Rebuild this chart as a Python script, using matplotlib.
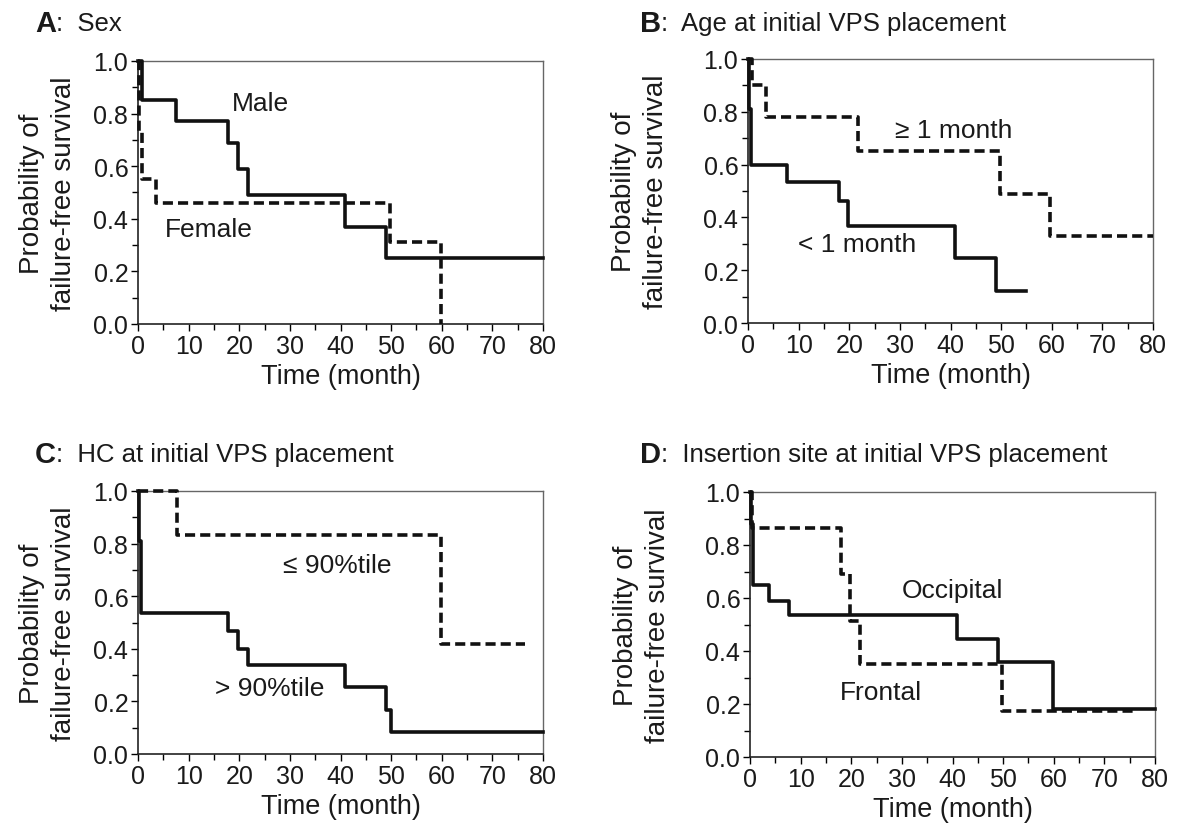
import matplotlib
matplotlib.use("Agg")
import matplotlib.pyplot as plt
from matplotlib.ticker import MultipleLocator, FormatStrFormatter

plt.rcParams['font.family'] = ['Liberation Sans', 'DejaVu Sans']

# Kaplan-Meier step data (event times in months, survival after each time)
a_male_t = [0, 0.7, 7.6, 17.8, 19.7, 21.7, 40.8, 49.0, 80]
a_male_s = [1.0, 0.85, 0.77, 0.69, 0.59, 0.49, 0.37, 0.25, 0.25]
a_female_t = [0, 0.1, 0.7, 3.6, 49.7, 59.9]
a_female_s = [1.0, 0.73, 0.55, 0.46, 0.31, 0.0]

b_lt1_t = [0, 0.1, 0.5, 7.7, 18.0, 19.7, 40.8, 48.9, 55.0]
b_lt1_s = [1.0, 0.81, 0.60, 0.533, 0.461, 0.369, 0.245, 0.122, 0.122]
b_ge1_t = [0, 0.7, 3.6, 21.7, 49.7, 59.7, 80]
b_ge1_s = [1.0, 0.90, 0.78, 0.65, 0.49, 0.33, 0.33]

c_le90_t = [0, 7.7, 59.9, 76.4]
c_le90_s = [1.0, 0.833, 0.417, 0.417]
c_gt90_t = [0, 0.1, 0.6, 17.8, 19.7, 21.7, 40.8, 49.0, 50.0, 80]
c_gt90_s = [1.0, 0.81, 0.535, 0.467, 0.40, 0.337, 0.253, 0.168, 0.085, 0.085]

d_occ_t = [0, 0.2, 0.6, 3.8, 7.8, 40.8, 49.0, 59.8, 80]
d_occ_s = [1.0, 0.88, 0.65, 0.59, 0.535, 0.445, 0.36, 0.183, 0.183]
d_fro_t = [0, 0.3, 17.9, 19.8, 21.7, 49.7, 76.4]
d_fro_s = [1.0, 0.865, 0.69, 0.515, 0.35, 0.175, 0.175]

letters = ["A", "B", "C", "D"]
titles = ["Sex", "Age at initial VPS placement", "HC at initial VPS placement",
          "Insertion site at initial VPS placement"]
solid_curves = [(a_male_t, a_male_s), (b_lt1_t, b_lt1_s), (c_gt90_t, c_gt90_s), (d_occ_t, d_occ_s)]
dashed_curves = [(a_female_t, a_female_s), (b_ge1_t, b_ge1_s), (c_le90_t, c_le90_s), (d_fro_t, d_fro_s)]
solid_names = ["Male", "< 1 month", "> 90%tile", "Occipital"]
dashed_names = ["Female", "\u2265 1 month", "\u2264 90%tile", "Frontal"]
# label anchor positions (data coords, left/center)
solid_pos = [(18.6, 0.84), (9.9, 0.30), (15.2, 0.25), (30.0, 0.63)]
dashed_pos = [(5.3, 0.36), (29.0, 0.73), (28.7, 0.72), (17.8, 0.245)]

W, H = 1180, 837
# axes boxes in pixels: left, top, right, bottom
boxes = [(138, 62, 543, 325), (748, 60, 1153, 324),
         (138, 492, 543, 755), (750, 493, 1155, 758)]
title_y = [24, 24, 455, 455]
title_x = [35, 640, 35, 640]
ylab_x = [48, 640, 48, 642]

fig = plt.figure(figsize=(W / 100, H / 100), dpi=100)
txt = "#1a1a1a"

for i in range(4):
    l, t, r, b = boxes[i]
    ax = fig.add_axes([l / W, 1 - b / H, (r - l) / W, (b - t) / H])
    st, ss = solid_curves[i]
    dt, ds = dashed_curves[i]
    ax.step(st, ss, where="post", color="#111111", lw=2.6, clip_on=False, zorder=3)
    ax.step(dt, ds, where="post", color="#111111", lw=2.6, clip_on=False, zorder=3,
            linestyle=(0, (2.8, 1.4)))
    ax.set_xlim(0, 80)
    ax.set_ylim(0, 1)
    ax.xaxis.set_major_locator(MultipleLocator(10))
    ax.xaxis.set_minor_locator(MultipleLocator(5))
    ax.yaxis.set_major_locator(MultipleLocator(0.2))
    ax.yaxis.set_minor_locator(MultipleLocator(0.1))
    ax.yaxis.set_major_formatter(FormatStrFormatter("%.1f"))
    ax.tick_params(which="both", direction="out", top=False, right=False,
                   labelsize=18, labelcolor=txt, pad=2, width=1)
    ax.tick_params(which="major", length=5)
    ax.tick_params(which="minor", length=4)
    for side in ["left", "bottom"]:
        ax.spines[side].set_linewidth(1.2)
        ax.spines[side].set_color("#222222")
    for side in ["top", "right"]:
        ax.spines[side].set_linewidth(1.0)
        ax.spines[side].set_color("#666666")
    ax.set_xlabel("Time (month)", fontsize=19.5, color=txt, labelpad=4)

    sx, sy = solid_pos[i]
    ax.text(sx, sy, solid_names[i], fontsize=19, color=txt, ha="left", va="center")
    dx, dy = dashed_pos[i]
    ax.text(dx, dy, dashed_names[i], fontsize=19, color=txt, ha="left", va="center")

    fig.text(ylab_x[i] / W, 1 - (t + b) / 2 / H, "Probability of\nfailure-free survival",
             rotation=90, ha="center", va="center", fontsize=20, color=txt,
             linespacing=1.3)

    lt = fig.text(title_x[i] / W, 1 - title_y[i] / H, letters[i], fontsize=21,
                  fontweight="bold", color=txt, ha="left", va="center")
    ax.annotate(":  " + titles[i], xy=(1, 0.5), xycoords=lt, ha="left", va="center",
                fontsize=18.5, color=txt)

fig.savefig("out.png", dpi=100)
